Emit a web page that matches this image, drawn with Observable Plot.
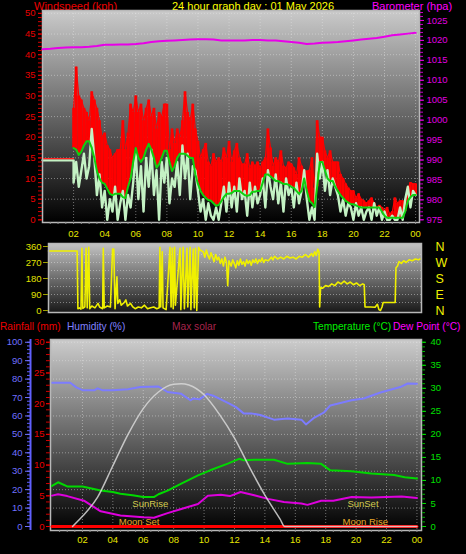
<!DOCTYPE html>
<html><head><meta charset="utf-8">
<script src="https://cdn.jsdelivr.net/npm/d3@7"></script>
<script src="https://cdn.jsdelivr.net/npm/@observablehq/plot@0.6"></script>
<style>
html,body{margin:0;padding:0;background:#000;}
#chart{position:relative;width:466px;height:554px;background:#000;overflow:hidden;font-family:"Liberation Sans",Arial,sans-serif;}
.lbl{position:absolute;font-size:11px;line-height:12px;white-space:nowrap;}
.hdr{font-size:10.2px;}
</style></head>
<body><div id="chart">
<div class="lbl" style="left:34px;top:0px;color:#ee0000">Windspeed (kph)</div>
<div class="lbl" style="left:172px;top:0px;color:#ffff00">24 hour graph day : 01 May 2026</div>
<div class="lbl" style="left:372px;top:0px;color:#ff00ff">Barometer (hpa)</div>
<div class="lbl hdr" style="left:0px;top:321px;color:#ee0000">Rainfall (mm)</div>
<div class="lbl hdr" style="left:67px;top:321px;color:#8080ff">Humidity (%)</div>
<div class="lbl hdr" style="left:172px;top:321px;color:#a8244c">Max solar</div>
<div class="lbl hdr" style="left:313px;top:321px;color:#00ee00">Temperature (°C)</div>
<div class="lbl hdr" style="left:393px;top:321px;color:#ff00ff">Dew Point (°C)</div>
</div>
<script>
// ---------- DATA ----------
const xTicks = [2, 4, 6, 8, 10, 12, 14, 16, 18, 20, 22, 24];
const xTickLabels = ["02", "04", "06", "08", "10", "12", "14", "16", "18", "20", "22", "00"];

// calm period before 02:00
const calmT = [0, 2];
const calmGust = [14.8, 14.8];
const calmSpeed = [14.4, 14.4];

// wind samples every 10 minutes from 02:00 to 24:00
const windStart = 2, windStep = 1 / 6;
const gust = [
  27, 37, 30, 29, 27, 26,
  24, 31, 29, 27, 24, 20,
  21, 18, 17, 15, 16, 17,
  17, 24, 17, 21, 28, 26,
  30, 26, 28, 24, 27, 29,
  25, 27, 22, 26, 25, 28,
  28, 17, 22, 18.5, 22, 20,
  24, 31, 26, 24, 28, 22,
  19, 15, 17, 18.5, 14, 13,
  16, 14, 15, 14, 17.4, 15,
  19, 14, 16.7, 18.5, 15, 13.5,
  13.5, 16, 12.6, 14, 13, 14,
  12.6, 14, 15, 22, 17.4, 13,
  15, 14, 16.7, 13, 12.6, 14,
  13.5, 12.6, 11, 15, 13, 11.8,
  11.8, 12, 15, 7.7, 24, 20,
  20, 16.7, 15, 16.7, 14, 14,
  14, 11, 10, 8.7, 7.7, 7,
  7, 5.3, 6.3, 5, 4.6, 4,
  4.6, 5.3, 4, 3, 3.5, 3,
  2.2, 3, 1.4, 2, 5.3, 4,
  4.6, 4.6, 2.5, 7.7, 9, 8.7,
  8.7
];
const avgSpeed = [
  17.4, 17, 15.7, 16.5, 18, 19,
  19, 17.4, 15, 11.8, 10, 9,
  8.7, 7.5, 6.3, 6, 6.3, 6.3,
  6.3, 5.5, 5.3, 8, 10, 14,
  17.4, 15, 14, 15, 17, 18.4,
  17, 15, 12.6, 13.5, 15, 16.7,
  16.7, 14, 11.8, 13, 15, 16,
  16, 16, 15.5, 15, 15, 11,
  8.7, 7, 6, 5.3, 4.8, 4.6,
  4, 3.4, 3.6, 4.5, 5.5, 6.3,
  6.3, 6.5, 7, 7, 7, 6.5,
  6, 5.8, 6, 6.8, 6.8, 7,
  7, 9, 11, 11, 10.5, 10,
  9.4, 9.4, 9, 8.7, 8.7, 8.5,
  8, 7.7, 7, 6.3, 7, 10,
  7, 4.6, 4, 3.1, 8, 14,
  14, 12, 10, 9.4, 9.4, 8,
  7, 6, 5.3, 4.6, 4.2, 3.8,
  3.8, 3.5, 3.2, 3, 3, 3,
  3, 3, 3, 3, 3, 2,
  1, 0.5, 0.5, 0.5, 0.5, 0.5,
  0.5, 0.5, 2, 4.6, 5.5, 6,
  6
];
const speed = [
  9, 14, 8, 12, 16, 10,
  13, 22, 15, 6, 11, 3,
  7, 0, 5, 2, 8, 0,
  4, 7, 0, 6, 3, 9,
  16, 5, 13, 2, 15, 8,
  17, 6, 12, 0, 14, 9,
  15, 4, 10, 8, 14, 6,
  18, 10, 16, 5, 13, 12,
  7, 2, 5, 0, 4, 1,
  0, 3, 0, 4, 8, 2,
  9, 3, 8, 2, 10, 5,
  7, 1, 9, 3, 8, 4,
  6, 10, 3, 12, 8, 5,
  11, 4, 9, 2, 10, 6,
  8, 3, 9, 4, 7, 12,
  5, 0, 3, 0, 16, 10,
  14, 7, 12, 6, 10, 8,
  6, 2, 5, 1, 4, 3,
  0, 4, 1, 3, 0, 2,
  3, 0, 4, 1, 3, 0,
  2, 0, 0, 1, 0, 0,
  3, 0, 5, 8, 3, 7,
  6
];

// barometer [hour, hPa]
const barometer = [
  [0, 1017.8], [0.5, 1017.9], [1, 1018.1], [1.5, 1018.2], [2, 1018.3], [2.5, 1018.3],
  [3, 1018.4], [3.5, 1018.6], [4, 1018.9], [4.5, 1018.9], [5, 1019.0], [5.5, 1019.0],
  [6, 1019.1], [6.5, 1019.3], [7, 1019.6], [7.5, 1019.8], [8, 1019.9], [8.5, 1020.0],
  [9, 1020.1], [9.5, 1020.2], [10, 1020.3], [10.5, 1020.3], [11, 1020.2], [11.5, 1020.0],
  [12, 1020.0], [12.5, 1020.0], [13, 1020.0], [13.5, 1020.1], [14, 1020.1], [14.5, 1020.0],
  [15, 1020.0], [15.5, 1019.8], [16, 1019.6], [16.5, 1019.4], [17, 1019.1], [17.5, 1019.2],
  [18, 1019.4], [18.5, 1019.5], [19, 1019.6], [19.5, 1019.8], [20, 1020.0], [20.5, 1020.2],
  [21, 1020.4], [21.5, 1020.6], [22, 1020.9], [22.5, 1021.3], [23, 1021.5], [23.5, 1021.7],
  [24, 1021.9]
];

// wind direction [hour, degrees]
const windDirection = [
  [0, 335], [1.85, 335], [1.9, 10], [2.0, 15], [2.1, 8], [2.16, 350], [2.22, 12], [2.35, 20],
  [2.43, 350], [2.5, 15], [2.6, 355], [2.66, 10], [2.8, 25], [3.0, 15], [3.2, 40], [3.3, 20],
  [3.5, 10], [3.54, 350], [3.6, 15], [3.8, 25], [4.0, 20], [4.14, 345], [4.22, 345], [4.3, 10],
  [4.42, 190], [4.48, 40], [4.6, 60], [4.7, 30], [4.9, 45], [5.0, 60], [5.1, 25], [5.3, 40],
  [5.45, 20], [5.6, 10], [5.8, 20], [6.0, 15], [6.2, 30], [6.4, 10], [6.6, 15], [6.8, 20],
  [7.0, 10], [7.15, 15], [7.2, 355], [7.25, 20], [7.35, 330], [7.4, 15], [7.6, 5], [7.85, 355],
  [7.92, 20], [8.0, 350], [8.06, 10], [8.15, 355], [8.2, 30], [8.5, 350], [8.55, 5], [8.7, 355],
  [8.78, 10], [8.95, 350], [9.0, 20], [9.15, 355], [9.2, 5], [9.35, 345], [9.42, 15], [9.5, 350],
  [9.58, 0], [9.7, 355], [9.8, 340], [10.0, 330], [10.1, 300], [10.2, 340], [10.3, 310], [10.4, 290],
  [10.5, 325], [10.6, 300], [10.7, 275], [10.8, 315], [10.9, 285], [11.0, 300], [11.1, 265], [11.2, 290],
  [11.3, 250], [11.4, 300], [11.5, 270], [11.58, 140], [11.66, 280], [11.8, 250], [11.9, 285], [12.0, 265],
  [12.1, 240], [12.2, 280], [12.3, 255], [12.4, 290], [12.5, 260], [12.6, 275], [12.7, 250], [12.8, 285],
  [12.9, 265], [13.0, 280], [13.1, 255], [13.2, 285], [13.3, 270], [13.4, 290], [13.5, 265], [13.6, 285],
  [13.7, 275], [13.8, 295], [13.9, 270], [14.0, 285], [14.2, 280], [14.4, 300], [14.5, 285], [14.6, 305],
  [14.8, 290], [15.0, 300], [15.2, 290], [15.4, 305], [15.6, 295], [15.8, 300], [16.0, 290], [16.2, 305],
  [16.4, 300], [16.6, 315], [16.8, 300], [17.0, 320], [17.1, 305], [17.2, 330], [17.3, 310], [17.4, 345],
  [17.48, 330], [17.52, 20], [17.58, 130], [17.7, 125], [17.9, 140], [18.1, 135], [18.3, 150], [18.5, 140],
  [18.7, 160], [18.9, 150], [19.1, 165], [19.3, 150], [19.5, 160], [19.7, 145], [19.9, 155], [20.1, 140],
  [20.3, 150], [20.4, 145], [20.45, 20], [20.8, 20], [21.1, 18], [21.25, 35], [21.35, 5], [21.45, 0],
  [21.55, 20], [21.62, 45], [22.0, 45], [22.4, 45], [22.45, 240], [22.55, 250], [22.65, 275], [22.8, 265],
  [22.95, 280], [23.1, 270], [23.3, 285], [23.5, 280], [23.7, 290], [23.9, 285], [24.0, 290]
];
const dirTicks = [0, 90, 180, 270, 360];
const compass = ["N", "E", "S", "W", "N"];

// lower panel [hour, value]
const humidity = [
  [0, 78], [1.2, 78], [1.6, 75.5], [2, 74], [2.8, 74], [3.0, 75], [3.3, 74], [4, 74], [5, 74.5],
  [5.8, 75.7], [7, 76], [7.6, 73], [8.5, 72], [9.1, 68.5], [9.3, 69.5], [9.7, 69], [10.2, 72],
  [10.6, 71], [11.6, 67], [12.1, 64.8], [12.6, 61.4], [13.1, 61.4], [13.7, 60.5], [14.6, 58],
  [15.5, 58.6], [16.4, 58], [16.7, 55.4], [17.2, 58.8], [17.9, 62], [18.3, 65.7], [19.7, 68.5],
  [20.5, 69.5], [21.6, 72.7], [22.9, 75.7], [23.4, 77.6], [24, 77.5]
];
const temperature = [
  [0, 8.8], [0.4, 9.6], [1, 8.7], [2, 8.7], [3.2, 7.8], [4, 7.5], [4.5, 7.1], [5.3, 6.8], [6, 6.4],
  [6.7, 6.4], [7, 7.0], [7.6, 7.8], [8.5, 9.3], [9.6, 11.1], [10.4, 12.2], [11.6, 13.7], [12.3, 14.7],
  [12.6, 14.4], [13.3, 14.5], [14.6, 14.5], [15.5, 13.6], [16.8, 13.8], [17.7, 13.6], [18.3, 12.2],
  [19.7, 12.0], [21, 11.5], [22.5, 11.2], [23.2, 10.7], [24, 10.4]
];
const dewPoint = [
  [0, 6.7], [0.4, 7.0], [1, 6.6], [2.1, 5.6], [3.2, 3.3], [4.5, 2.4], [6.0, 2.0], [6.7, 1.9],
  [7.6, 2.9], [8.5, 3.8], [9.6, 4.9], [10.25, 6.7], [11.1, 6.9], [11.7, 6.6], [12.4, 7.5], [13.3, 6.8],
  [14.2, 6.0], [15.25, 5.3], [16.4, 5.0], [16.8, 4.7], [17.7, 5.6], [18.5, 5.6], [19.7, 6.4],
  [21, 6.3], [22, 6.4], [23, 6.5], [24, 6.2]
];
const maxSolar = [
  [1.35, 0], [2, 55], [3, 160], [4, 330], [5, 500], [6, 640], [7, 730], [8, 772], [8.5, 775],
  [9, 768], [10, 715], [11, 610], [12, 480], [13, 320], [14, 170], [15, 40], [15.3, 0], [24, 0]
];
const rainfall = [[0, 0], [24, 0]];
const sunLabels = ["SunRise", "SunSet"];
const sunTimes = [6.46, 20.45];
const moonLabels = ["Moon Set", "Moon Rise"];
const moonTimes = [5.73, 20.6];

// ---------- DRAWING ----------
const W = 466;
const FONT = '"Liberation Sans", Arial, sans-serif';
const chart = document.getElementById("chart");
const hourLabel = d => xTickLabels[xTicks.indexOf(d)];
const halfHours = d3.range(0.5, 24.01, 0.5);
const gridStyle = {stroke: "#e8e8e8", strokeOpacity: 0.45, strokeDasharray: "1,2", strokeWidth: 1};
const blank = () => "";

function addGradient(svg, id, c0, c1) {
  const defs = d3.select(svg).insert("defs", ":first-child");
  const g = defs.append("linearGradient").attr("id", id)
    .attr("x1", 0).attr("y1", 0).attr("x2", 0).attr("y2", 1);
  g.append("stop").attr("offset", "0%").attr("stop-color", c0);
  g.append("stop").attr("offset", "100%").attr("stop-color", c1);
}
function layer(top, height, opts, gradient) {
  const svg = Plot.plot({
    width: W, height,
    style: {background: "transparent", fontFamily: FONT, fontSize: "9.5px", overflow: "visible"},
    ...opts
  });
  if (gradient) addGradient(svg, ...gradient);
  svg.style.position = "absolute";
  svg.style.left = "0px";
  svg.style.top = top + "px";
  chart.appendChild(svg);
}
const ax = (fn, data, o) => fn(data, {label: null, ...o});

const windRows = gust.map((g, i) => ({t: windStart + i * windStep, gust: g, avg: avgSpeed[i], speed: speed[i]}));
const calmRows = calmT.map((t, i) => ({t, gust: calmGust[i], speed: calmSpeed[i]}));
const pair = a => a.map(([t, v]) => ({t, v}));

// Panel 1: wind
const p1 = {marginTop: 10, marginBottom: 24, marginLeft: 42, marginRight: 47};
layer(0, 246, {
  ...p1,
  x: {domain: [0, 24.25], axis: null, label: null},
  y: {domain: [-0.65, 50.7], axis: null, label: null},
  marks: [
    Plot.frame({fill: "url(#gw)"}),
    Plot.gridY(d3.range(5, 51, 5), gridStyle),
    Plot.gridX(xTicks, gridStyle),
    Plot.ruleX(windRows, {x: "t", y1: "avg", y2: "gust", stroke: "#ff0000", strokeWidth: 2.8}),
    Plot.line(windRows, {x: "t", y: "gust", stroke: "#ff0000", strokeWidth: 1.2}),
    Plot.line(calmRows.concat(windRows), {x: "t", y: "speed", stroke: "#c4f2c4", strokeWidth: 2.4}),
    Plot.line(calmRows, {x: "t", y: "gust", stroke: "#ff2020", strokeWidth: 1.2}),
    Plot.line(windRows, {x: "t", y: "avg", stroke: "#10d010", strokeWidth: 2}),
    Plot.frame({stroke: "#b8b8b8", strokeWidth: 1.5}),
    ax(Plot.axisY, d3.range(0, 51), {anchor: "left", tickSize: 4, tickFormat: blank, color: "#d80000"}),
    ax(Plot.axisY, d3.range(0, 51, 5), {anchor: "left", tickSize: 4, tickPadding: 3, color: "#e80000", tickFormat: d => String(d)}),
    ax(Plot.axisX, halfHours, {anchor: "bottom", tickSize: 2, tickFormat: blank, stroke: "#909090"}),
    ax(Plot.axisX, xTicks, {anchor: "bottom", tickSize: 0, tickPadding: 8, fill: "#e6e600", tickFormat: hourLabel})
  ]
}, ["gw", "#cacaca", "#000000"]);

// Panel 1 overlay: barometer
layer(0, 246, {
  ...p1,
  x: {domain: [0, 24.25], axis: null, label: null},
  y: {domain: [974.32, 1027.5], axis: null, label: null},
  marks: [
    Plot.line(pair(barometer), {x: "t", y: "v", stroke: "#e800e8", strokeWidth: 2}),
    ax(Plot.axisY, d3.range(975, 1028), {anchor: "right", tickSize: 3, tickFormat: blank, color: "#c800c8"}),
    ax(Plot.axisY, d3.range(975, 1026, 5), {anchor: "right", tickSize: 4, tickPadding: 3, color: "#e000e0", tickFormat: d => String(d)})
  ]
});

// Panel 2: wind direction
layer(240, 80, {
  marginTop: 3, marginBottom: 8, marginLeft: 48, marginRight: 45,
  x: {domain: [0, 24.1], axis: null, label: null},
  y: {domain: [-11.25, 376.9], axis: null, label: null},
  marks: [
    Plot.frame({fill: "url(#gd)"}),
    Plot.gridY([45, 90, 135, 180, 225, 270, 315], gridStyle),
    Plot.line(pair(windDirection), {x: "t", y: "v", stroke: "#f0f000", strokeWidth: 1.6}),
    Plot.frame({stroke: "#b8b8b8", strokeWidth: 1.5}),
    ax(Plot.axisY, dirTicks, {anchor: "left", tickSize: 5, tickPadding: 2, stroke: "#a0a000", fill: "#e0e000", tickFormat: d => String(d)}),
    ax(Plot.axisY, dirTicks, {anchor: "right", tickSize: 0, tickPadding: 14, fill: "#f0f000", fontSize: 12.5, tickFormat: d => compass[dirTicks.indexOf(d)]})
  ]
}, ["gd", "#c4c4c4", "#181818"]);

// Panel 3
const p3 = {marginTop: 7, marginBottom: 24, marginLeft: 50, marginRight: 45};
const x3 = {domain: [-0.1, 24.3], axis: null, label: null};
layer(332, 222, {
  ...p3, x: x3,
  y: {domain: [-2.17, 101.5], axis: null, label: null},
  marks: [
    Plot.frame({fill: "url(#gp)"}),
    Plot.gridY(d3.range(10, 101, 10), gridStyle),
    Plot.gridX(xTicks, gridStyle),
    Plot.line(pair(humidity), {x: "t", y: "v", stroke: "#7c7cff", strokeWidth: 2}),
    Plot.frame({stroke: "#b8b8b8", strokeWidth: 1.5}),
    Plot.ruleX([x3.domain[0]], {dx: -20, stroke: "#6060ff", strokeWidth: 2}),
    ax(Plot.axisY, d3.range(0, 101, 2), {anchor: "left", dx: -20, tickSize: 3, tickFormat: blank, color: "#6060ff"}),
    ax(Plot.axisY, d3.range(0, 101, 10), {anchor: "left", dx: -20, tickSize: 5, tickPadding: 3, color: "#7070ff", tickFormat: d => String(d)}),
    ax(Plot.axisX, halfHours, {anchor: "bottom", tickSize: 2, tickFormat: blank, stroke: "#909090"}),
    ax(Plot.axisX, xTicks, {anchor: "bottom", tickSize: 0, tickPadding: 6, fill: "#e6e600", tickFormat: hourLabel})
  ]
}, ["gp", "#cccccc", "#000000"]);

layer(332, 222, {
  ...p3, x: x3,
  y: {domain: [-0.868, 40.6], axis: null, label: null},
  marks: [
    Plot.line(pair(temperature), {x: "t", y: "v", stroke: "#00d800", strokeWidth: 2}),
    Plot.line(pair(dewPoint), {x: "t", y: "v", stroke: "#dd00dd", strokeWidth: 2}),
    ax(Plot.axisY, d3.range(0, 41), {anchor: "right", tickSize: 3, tickFormat: blank, color: "#00b000"}),
    ax(Plot.axisY, d3.range(0, 41, 5), {anchor: "right", tickSize: 4, tickPadding: 5, color: "#00e000", tickFormat: d => String(d)})
  ]
});

layer(332, 222, {
  ...p3, x: x3,
  y: {domain: [-0.65, 30.45], axis: null, label: null},
  marks: [
    Plot.line(pair(rainfall), {x: "t", y: "v", stroke: "#ff0000", strokeWidth: 3}),
    ax(Plot.axisY, d3.range(0, 31), {anchor: "left", tickSize: 4, tickFormat: blank, color: "#d00000"}),
    ax(Plot.axisY, d3.range(0, 31, 5), {anchor: "left", tickSize: 4, tickPadding: 2, color: "#e80000", tickFormat: d => String(d)})
  ]
});

layer(332, 222, {
  ...p3, x: x3,
  y: {domain: [-21.7, 1015], axis: null, label: null},
  marks: [
    Plot.line(pair(maxSolar), {x: "t", y: "v", curve: "monotone-x", stroke: "#d8d8d8", strokeOpacity: 0.85, strokeWidth: 1.5}),
    Plot.text(sunLabels, {x: sunTimes, text: d => d, frameAnchor: "bottom", dy: -23.5, fill: "#d4cc50", fontSize: 9.5}),
    Plot.text(moonLabels, {x: moonTimes, text: d => d, frameAnchor: "bottom", dy: -6, fill: "#e8a828", fontSize: 9.5})
  ]
});
</script>
</body></html>
